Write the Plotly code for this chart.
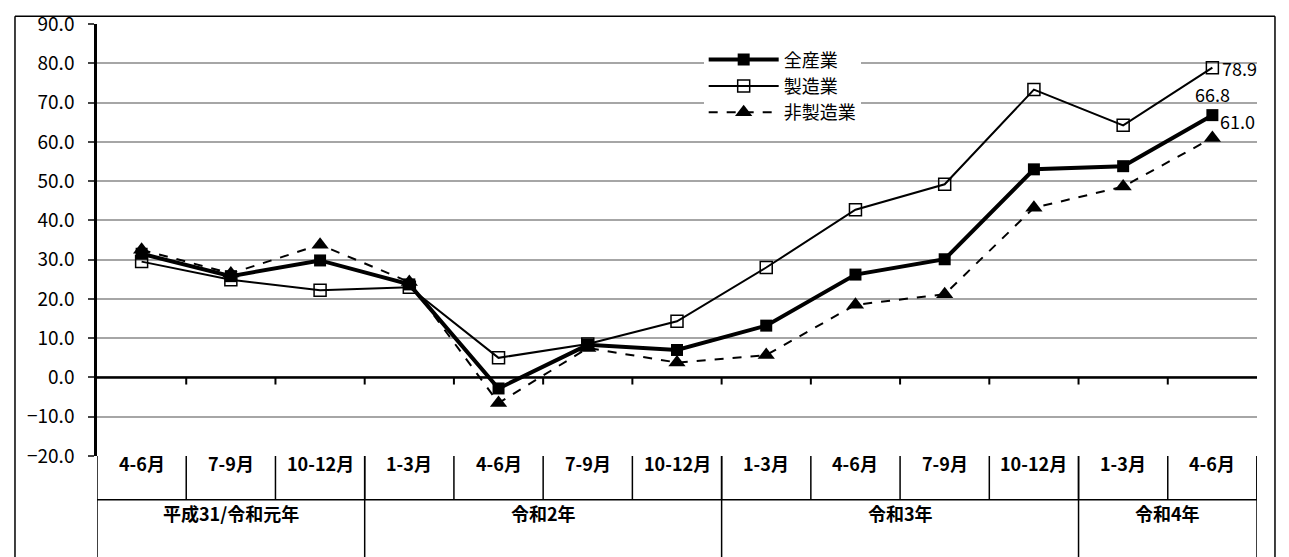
import plotly.graph_objects as go

months = ["4-6月", "7-9月", "10-12月", "1-3月", "4-6月", "7-9月", "10-12月",
          "1-3月", "4-6月", "7-9月", "10-12月", "1-3月", "4-6月"]
years = ["平成31/令和元年", "令和2年", "令和3年", "令和4年"]
year_spans = [(0, 2), (3, 6), (7, 10), (11, 12)]
all_ind = [31.5, 25.8, 29.8, 23.7, -2.8, 8.3, 7.0, 13.2, 26.2, 30.1, 53.0, 53.8, 66.8]
manuf = [29.5, 24.9, 22.2, 23.0, 5.0, 8.5, 14.3, 28.0, 42.7, 49.2, 73.3, 64.2, 78.9]
nonmanuf = [32.5, 26.5, 33.8, 24.3, -6.5, 7.5, 3.8, 5.7, 18.5, 21.2, 43.2, 48.6, 61.0]

FONT = "Noto Sans CJK JP"
x = list(range(len(months)))

fig = go.Figure()
fig.add_trace(go.Scatter(x=x, y=all_ind, name="全産業", mode="lines+markers",
                         line=dict(color="black", width=4),
                         marker=dict(symbol="square", size=12, color="black")))
fig.add_trace(go.Scatter(x=x, y=manuf, name="製造業", mode="lines+markers",
                         line=dict(color="black", width=2),
                         marker=dict(symbol="square-open", size=12, color="black", line=dict(width=1.5))))
fig.add_trace(go.Scatter(x=x, y=nonmanuf, name="非製造業", mode="lines+markers",
                         line=dict(color="black", width=2, dash="dash"),
                         marker=dict(symbol="triangle-up", size=15, color="black")))

# data labels for the last point
last = len(months) - 1
fig.add_annotation(x=last, y=manuf[-1], text=f"{manuf[-1]:.1f}", showarrow=False, xanchor="left", xshift=8)
fig.add_annotation(x=last, y=all_ind[-1], text=f"{all_ind[-1]:.1f}", showarrow=False, yanchor="bottom", yshift=6)
fig.add_annotation(x=last, y=nonmanuf[-1], text=f"{nonmanuf[-1]:.1f}", showarrow=False, xanchor="left", yanchor="bottom", xshift=6, yshift=2)

# category table under the plot
row1 = -0.101
row2 = -0.233
for i, m in enumerate(months):
    fig.add_annotation(x=i, y=row1 / 2, yref="paper", text=f"<b>{m}</b>", showarrow=False)
    fig.add_shape(type="line", x0=i + 0.5, x1=i + 0.5, y0=0, y1=row1, yref="paper",
                  line=dict(color="black", width=1.5))
for name, (a, b) in zip(years, year_spans):
    fig.add_annotation(x=(a + b) / 2, y=(row1 + row2) / 2, yref="paper", text=f"<b>{name}</b>", showarrow=False)
    fig.add_shape(type="line", x0=b + 0.5, x1=b + 0.5, y0=0, y1=-0.3, yref="paper",
                  line=dict(color="black", width=1.5))
fig.add_shape(type="line", x0=-0.5, x1=-0.5, y0=0, y1=-0.3, yref="paper", line=dict(color="black", width=1.5))
fig.add_shape(type="line", x0=-0.5, x1=len(months) - 0.5, y0=row1, y1=row1, yref="paper",
              line=dict(color="black", width=1.5))
# zero line with ticks
fig.add_shape(type="line", x0=-0.5, x1=len(months) - 0.5, y0=0, y1=0, line=dict(color="black", width=2.5))
for i in range(len(months) - 1):
    fig.add_shape(type="line", x0=i + 0.5, x1=i + 0.5, y0=0, y1=-1.8, line=dict(color="black", width=2))
# outer frame
fig.add_shape(type="line", xref="paper", yref="paper", x0=-0.0707, x1=1.0155, y0=1.018, y1=1.018,
              line=dict(color="black", width=1.5))
fig.add_shape(type="line", xref="paper", yref="paper", x0=-0.0707, x1=-0.0707, y0=-0.32, y1=1.018,
              line=dict(color="black", width=1.5))
fig.add_shape(type="line", xref="paper", yref="paper", x0=1.0155, x1=1.0155, y0=-0.32, y1=1.018,
              line=dict(color="black", width=1.5))

fig.update_layout(
    width=1273, height=549,
    margin=dict(l=89, r=24, t=16, b=101, autoexpand=False),
    plot_bgcolor="white", paper_bgcolor="white",
    font=dict(family=FONT, size=18, color="black"),
    showlegend=True,
    legend=dict(x=0.523, y=0.96, xanchor="left", yanchor="top", bgcolor="white",
                font=dict(size=18), itemwidth=70, tracegroupgap=12),
    xaxis=dict(range=[-0.5, len(months) - 0.5], showticklabels=False, showgrid=False,
               zeroline=False, showline=False, ticks="", automargin=False),
    yaxis=dict(range=[-20, 90.01], dtick=10, tickformat=".1f", showgrid=True, gridcolor="#a6a6a6",
               gridwidth=1.5, zeroline=False, showline=True, linecolor="black", linewidth=2.5,
               ticks="outside", ticklen=6, tickwidth=2, ticklabelstandoff=10, automargin=False,
               tickfont=dict(size=19)),
)

fig.write_html("out.html")
